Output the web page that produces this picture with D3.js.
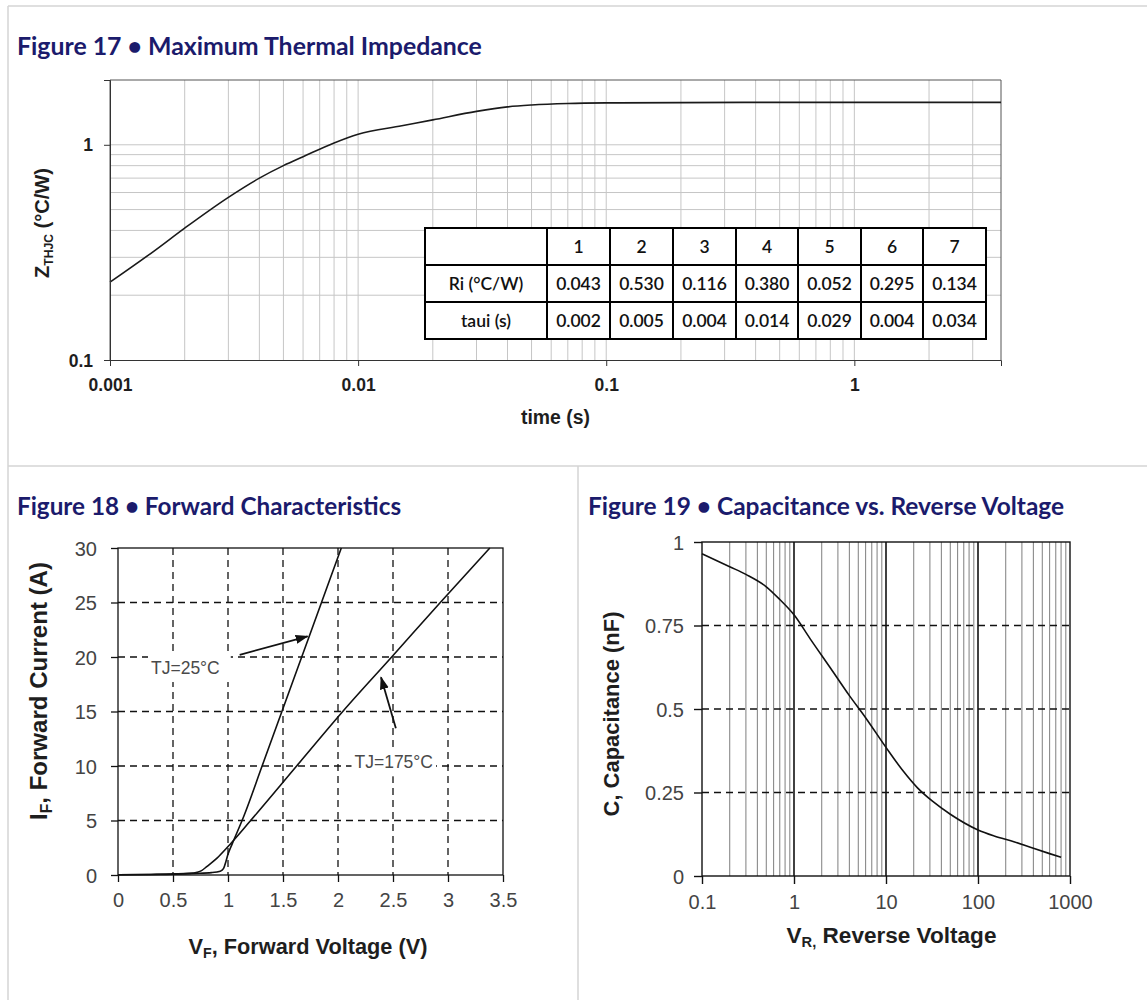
<!DOCTYPE html>
<html><head><meta charset="utf-8">
<script src="https://cdn.jsdelivr.net/npm/d3@7"></script>
<style>body{margin:0;background:#fff}svg{display:block}</style>
</head><body>
<svg id="c" width="1147" height="1000"></svg>
<script>
// ---------------- DATA ----------------
// Figure 17: thermal impedance
const zthTime  = [0.001, 0.0015, 0.002, 0.003, 0.004, 0.005, 0.006, 0.008, 0.01, 0.015, 0.02, 0.03, 0.04, 0.05, 0.07, 0.1, 0.2, 0.5, 1, 2, 3.9];
const zthValue = [0.23, 0.32, 0.41, 0.57, 0.70, 0.80, 0.88, 1.02, 1.12, 1.225, 1.305, 1.43, 1.50, 1.53, 1.555, 1.565, 1.57, 1.575, 1.575, 1.575, 1.575];
const zthXTicks = [0.001, 0.01, 0.1, 1];
const zthXLabels = ["0.001", "0.01", "0.1", "1"];
const zthYTicks = [0.1, 1];
const zthYLabels = ["0.1", "1"];
const tableCols = ["1", "2", "3", "4", "5", "6", "7"];
const tableRowNames = ["Ri (°C/W)", "taui (s)"];
const riValues  = ["0.043", "0.530", "0.116", "0.380", "0.052", "0.295", "0.134"];
const tauValues = ["0.002", "0.005", "0.004", "0.014", "0.029", "0.004", "0.034"];

// Figure 18: forward characteristics
const vf25  = [0, 0.3, 0.5, 0.7, 0.85, 0.93, 0.96, 0.98, 1.0, 1.04, 1.14, 1.31, 1.49, 1.67, 1.85, 2.03];
const if25  = [0.02, 0.05, 0.08, 0.15, 0.22, 0.35, 0.6, 1.2, 1.9, 2.9, 5.3, 10, 15, 20, 25, 30];
const vf175 = [0, 0.3, 0.5, 0.65, 0.72, 0.76, 0.81, 0.9, 0.99, 1.206, 1.624, 2.043, 2.488, 2.93, 3.38];
const if175 = [0.02, 0.05, 0.1, 0.15, 0.25, 0.4, 0.8, 1.55, 2.5, 5, 10, 15, 20, 25, 30];
const vfTicks = [0, 0.5, 1, 1.5, 2, 2.5, 3, 3.5];
const ifTicks = [0, 5, 10, 15, 20, 25, 30];
const label25  = {text: "TJ=25°C",  at: [0.30, 19.0], arrowFrom: [1.106, 20.2], arrowTo: [1.724, 21.9]};
const label175 = {text: "TJ=175°C", at: [2.15, 10.35], arrowFrom: [2.526, 13.46], arrowTo: [2.391, 18.15]};

// Figure 19: capacitance vs reverse voltage
const vrValues  = [0.1, 0.2, 0.3, 0.5, 0.7, 1, 1.5, 2.5, 4, 6, 10, 15, 22, 32, 50, 100, 150, 250, 400, 600, 800];
const capValues = [0.965, 0.926, 0.903, 0.866, 0.828, 0.782, 0.71, 0.622, 0.54, 0.474, 0.385, 0.318, 0.264, 0.224, 0.185, 0.138, 0.12, 0.102, 0.083, 0.067, 0.056];
const vrTicks = [0.1, 1, 10, 100, 1000];
const vrLabels = ["0.1", "1", "10", "100", "1000"];
const capTicks = [0, 0.25, 0.5, 0.75, 1];
const capLabels = ["0", "0.25", "0.5", "0.75", "1"];

// ---------------- DRAWING ----------------
const svg = d3.select("#c");
const TITLE_FONT = "Lato, 'Open Sans', sans-serif";
const AX_FONT = "'Liberation Sans', Arial, sans-serif";
const NAVY = "#1b1b6c";

function fit(sel, target) {
  const fs = parseFloat(sel.attr("font-size"));
  const w = sel.node().getComputedTextLength();
  sel.attr("font-size", (fs * target / w).toFixed(2));
  return sel;
}

// panel separators
const sep = svg.append("g").attr("stroke", "#d4d4d4").attr("stroke-width", 1.5);
sep.append("line").attr("x1", 8).attr("x2", 1147).attr("y1", 6).attr("y2", 6);
sep.append("line").attr("x1", 8).attr("x2", 8).attr("y1", 6).attr("y2", 1000);
sep.append("line").attr("x1", 8).attr("x2", 1147).attr("y1", 466).attr("y2", 466);
sep.append("line").attr("x1", 578).attr("x2", 578).attr("y1", 466).attr("y2", 1000);

// titles
function title(x, y, txt, w) {
  const t = svg.append("text").attr("x", x).attr("y", y).attr("font-family", TITLE_FONT)
    .attr("font-weight", 700).attr("font-size", 22).attr("fill", NAVY).text(txt);
  fit(t, w);
}
title(17, 55, "Figure 17 • Maximum Thermal Impedance", 465);
title(17, 515, "Figure 18 • Forward Characteristics", 384);
title(588, 515, "Figure 19 • Capacitance vs. Reverse Voltage", 476);

// ===== Figure 17 =====
{
  const L = 110, R = 1001, T = 80, B = 360;
  const x = d3.scaleLog().domain([0.001, 3.9]).range([L, R]);
  const y = d3.scaleLog().domain([0.1, 2]).range([B, T]);
  const g = svg.append("g");
  g.append("g").selectAll("line").data(x.ticks().filter(d => d > 0.0011)).join("line")
    .attr("x1", d => x(d)).attr("x2", d => x(d)).attr("y1", T).attr("y2", B)
    .attr("stroke", "#c6c6c6").attr("stroke-width", 1);
  g.append("g").selectAll("line").data(y.ticks().filter(d => d > 0.11 && d < 1.9)).join("line")
    .attr("x1", L).attr("x2", R).attr("y1", d => y(d)).attr("y2", d => y(d))
    .attr("stroke", "#c6c6c6").attr("stroke-width", 1);
  // frame
  g.append("path").attr("d", `M${L},${B}V${T}H${R}V${B}`).attr("fill", "none").attr("stroke", "#555").attr("stroke-width", 1);
  // curve
  const pts = zthTime.map((t, i) => [t, zthValue[i]]);
  g.append("path").datum(pts)
    .attr("d", d3.line().x(d => x(d[0])).y(d => y(d[1])).curve(d3.curveMonotoneX))
    .attr("fill", "none").attr("stroke", "#1a1a1a").attr("stroke-width", 1.6);
  // axes
  const ax = g.append("g").attr("transform", `translate(0,${B})`)
    .call(d3.axisBottom(x).tickValues(zthXTicks).tickFormat((d, i) => zthXLabels[i]).tickSize(6));
  const ay = g.append("g").attr("transform", `translate(${L},0)`)
    .call(d3.axisLeft(y).tickValues(zthYTicks).tickFormat((d, i) => zthYLabels[i]).tickSize(6));
  [ax, ay].forEach(a => {
    a.select(".domain").attr("stroke", "#333");
    a.selectAll(".tick line").attr("stroke", "#333");
    a.selectAll("text").attr("font-family", AX_FONT).attr("font-weight", 700).attr("font-size", 17.5).attr("fill", "#1e1e1e");
  });
  ax.selectAll("text").attr("y", 25).attr("dy", "0.35em");
  ay.selectAll("text").attr("x", -17).attr("dy", "0.35em");
  // axis titles
  const xt = g.append("text").attr("x", (L + R) / 2).attr("y", 417).attr("dy", "0.35em").attr("text-anchor", "middle")
    .attr("font-family", AX_FONT).attr("font-weight", 700).attr("font-size", 18).attr("fill", "#1e1e1e").text("time (s)");
  fit(xt, 69);
  const yt = g.append("text").attr("transform", "translate(42,223) rotate(-90)").attr("dy", "0.35em")
    .attr("text-anchor", "middle").attr("font-family", AX_FONT).attr("font-weight", 700).attr("font-size", 19).attr("fill", "#1e1e1e");
  yt.append("tspan").text("Z");
  yt.append("tspan").attr("font-size", "0.6em").attr("dy", "0.35em").text("THJC");
  yt.append("tspan").attr("dy", "-0.21em").text(" (°C/W)");
  fit(yt, 110);

  // table
  const colEdges = [425, 547, 610, 673, 736, 798, 861, 923, 986];
  const rowEdges = [228, 265, 302, 339];
  const tg = g.append("g");
  tg.append("rect").attr("x", colEdges[0]).attr("y", rowEdges[0])
    .attr("width", colEdges[8] - colEdges[0]).attr("height", rowEdges[3] - rowEdges[0]).attr("fill", "#fff");
  const cells = [];
  tableCols.forEach((c, i) => cells.push({r: 0, c: i + 1, t: c}));
  tableRowNames.forEach((n, i) => cells.push({r: i + 1, c: 0, t: n}));
  riValues.forEach((v, i) => cells.push({r: 1, c: i + 1, t: v}));
  tauValues.forEach((v, i) => cells.push({r: 2, c: i + 1, t: v}));
  tg.selectAll("text").data(cells).join("text")
    .attr("x", d => (colEdges[d.c] + colEdges[d.c + 1]) / 2)
    .attr("y", d => (rowEdges[d.r] + rowEdges[d.r + 1]) / 2).attr("dy", "0.36em")
    .attr("text-anchor", "middle").attr("font-family", "Lato, 'Open Sans', sans-serif")
    .attr("font-weight", 600).attr("font-size", 17.5).attr("fill", "#111").text(d => d.t);
  tg.append("g").selectAll("line").data(colEdges).join("line")
    .attr("x1", d => d).attr("x2", d => d).attr("y1", rowEdges[0]).attr("y2", rowEdges[3])
    .attr("stroke", "#000").attr("stroke-width", 2);
  tg.append("g").selectAll("line").data(rowEdges).join("line")
    .attr("x1", colEdges[0] - 1).attr("x2", colEdges[8] + 1).attr("y1", d => d).attr("y2", d => d)
    .attr("stroke", "#000").attr("stroke-width", 2);
}

// arrow marker
svg.append("defs").append("marker").attr("id", "arr").attr("markerUnits", "userSpaceOnUse")
  .attr("markerWidth", 14).attr("markerHeight", 10).attr("refX", 12).attr("refY", 5).attr("orient", "auto")
  .append("path").attr("d", "M0,0.5L13,5L0,9.5Z").attr("fill", "#111");

// ===== Figure 18 =====
{
  const L = 118, R = 503, T = 548, B = 875;
  const x = d3.scaleLinear().domain([0, 3.5]).range([L, R]);
  const y = d3.scaleLinear().domain([0, 30]).range([B, T]);
  const g = svg.append("g");
  g.append("g").selectAll("line").data(vfTicks.slice(1, -1)).join("line")
    .attr("x1", d => x(d)).attr("x2", d => x(d)).attr("y1", T).attr("y2", B)
    .attr("stroke", "#111").attr("stroke-width", 1.3).attr("stroke-dasharray", "7,5");
  g.append("g").selectAll("line").data(ifTicks.slice(1, -1)).join("line")
    .attr("x1", L).attr("x2", R).attr("y1", d => y(d)).attr("y2", d => y(d))
    .attr("stroke", "#111").attr("stroke-width", 1.3).attr("stroke-dasharray", "7,5");
  // labels with white background
  [label25, label175].forEach(lb => {
    const t = g.append("text").attr("x", x(lb.at[0])).attr("y", y(lb.at[1])).attr("dy", "0.35em")
      .attr("font-family", AX_FONT).attr("font-size", 17.5).attr("fill", "#4a4a4a").text(lb.text);
    const bb = t.node().getBBox();
    g.insert("rect", () => t.node()).attr("x", bb.x - 3).attr("y", bb.y - 5)
      .attr("width", bb.width + (lb === label25 ? 14 : 6)).attr("height", bb.height + 9).attr("fill", "#fff");
  });
  // frame
  g.append("rect").attr("x", L).attr("y", T).attr("width", R - L).attr("height", B - T)
    .attr("fill", "none").attr("stroke", "#111").attr("stroke-width", 1.3);
  const line = d3.line().x(d => x(d[0])).y(d => y(d[1])).curve(d3.curveMonotoneX);
  g.append("path").datum(vf25.map((v, i) => [v, if25[i]])).attr("d", line)
    .attr("fill", "none").attr("stroke", "#111").attr("stroke-width", 1.6);
  g.append("path").datum(vf175.map((v, i) => [v, if175[i]])).attr("d", line)
    .attr("fill", "none").attr("stroke", "#111").attr("stroke-width", 1.6);
  [label25, label175].forEach(lb => {
    g.append("line").attr("x1", x(lb.arrowFrom[0])).attr("y1", y(lb.arrowFrom[1]))
      .attr("x2", x(lb.arrowTo[0])).attr("y2", y(lb.arrowTo[1]))
      .attr("stroke", "#111").attr("stroke-width", 1.8).attr("marker-end", "url(#arr)");
  });
  const ax = g.append("g").attr("transform", `translate(0,${B})`)
    .call(d3.axisBottom(x).tickValues(vfTicks).tickFormat(d3.format("")).tickSize(7));
  const ay = g.append("g").attr("transform", `translate(${L},0)`)
    .call(d3.axisLeft(y).tickValues(ifTicks).tickFormat(d3.format("")).tickSize(7));
  [ax, ay].forEach(a => {
    a.select(".domain").remove();
    a.selectAll(".tick line").attr("stroke", "#111").attr("stroke-width", 1.3);
    a.selectAll("text").attr("font-family", AX_FONT).attr("font-size", 20).attr("fill", "#444");
  });
  ax.selectAll("text").attr("y", 25).attr("dy", "0.35em");
  ay.selectAll("text").attr("x", -21).attr("dy", "0.35em");
  const xt = g.append("text").attr("x", 308).attr("y", 946).attr("dy", "0.35em").attr("text-anchor", "middle")
    .attr("font-family", AX_FONT).attr("font-weight", 700).attr("font-size", 20).attr("fill", "#1e1e1e");
  xt.append("tspan").text("V");
  xt.append("tspan").attr("font-size", "0.65em").attr("dy", "0.3em").text("F");
  xt.append("tspan").attr("dy", "-0.2em").text(", Forward Voltage (V)");
  fit(xt, 239);
  const yt = g.append("text").attr("transform", "translate(39,691) rotate(-90)").attr("dy", "0.35em")
    .attr("text-anchor", "middle").attr("font-family", AX_FONT).attr("font-weight", 700).attr("font-size", 20).attr("fill", "#1e1e1e");
  yt.append("tspan").text("I");
  yt.append("tspan").attr("font-size", "0.65em").attr("dy", "0.3em").text("F");
  yt.append("tspan").attr("dy", "-0.2em").text(", Forward Current (A)");
  fit(yt, 258);
}

// ===== Figure 19 =====
{
  const L = 702, R = 1070, T = 542, B = 876;
  const x = d3.scaleLog().domain([0.1, 1000]).range([L, R]);
  const y = d3.scaleLinear().domain([0, 1]).range([B, T]);
  const g = svg.append("g");
  const minor = x.ticks().filter(d => !vrTicks.some(v => Math.abs(v - d) / v < 1e-6));
  g.append("g").selectAll("line").data(minor).join("line")
    .attr("x1", d => x(d)).attr("x2", d => x(d)).attr("y1", T).attr("y2", B)
    .attr("stroke", "#8a8a8a").attr("stroke-width", 1.1);
  g.append("g").selectAll("line").data(vrTicks.slice(1, -1)).join("line")
    .attr("x1", d => x(d)).attr("x2", d => x(d)).attr("y1", T).attr("y2", B)
    .attr("stroke", "#111").attr("stroke-width", 1.6);
  g.append("g").selectAll("line").data(capTicks.slice(1, -1)).join("line")
    .attr("x1", L).attr("x2", R).attr("y1", d => y(d)).attr("y2", d => y(d))
    .attr("stroke", "#111").attr("stroke-width", 1.3).attr("stroke-dasharray", "7,5");
  g.append("rect").attr("x", L).attr("y", T).attr("width", R - L).attr("height", B - T)
    .attr("fill", "none").attr("stroke", "#111").attr("stroke-width", 1.4);
  g.append("path").datum(vrValues.map((v, i) => [v, capValues[i]]))
    .attr("d", d3.line().x(d => x(d[0])).y(d => y(d[1])).curve(d3.curveMonotoneX))
    .attr("fill", "none").attr("stroke", "#111").attr("stroke-width", 1.6);
  const ax = g.append("g").attr("transform", `translate(0,${B})`)
    .call(d3.axisBottom(x).tickValues(vrTicks).tickFormat((d, i) => vrLabels[i]).tickSize(8));
  const ay = g.append("g").attr("transform", `translate(${L},0)`)
    .call(d3.axisLeft(y).tickValues(capTicks).tickFormat((d, i) => capLabels[i]).tickSize(8));
  [ax, ay].forEach(a => {
    a.select(".domain").remove();
    a.selectAll(".tick line").attr("stroke", "#111").attr("stroke-width", 1.4);
    a.selectAll("text").attr("font-family", AX_FONT).attr("font-size", 20).attr("fill", "#444");
  });
  ax.selectAll("text").attr("y", 26).attr("dy", "0.35em");
  ay.selectAll("text").attr("x", -18).attr("dy", "0.35em");
  const xt = g.append("text").attr("x", 891.5).attr("y", 935).attr("dy", "0.35em").attr("text-anchor", "middle")
    .attr("font-family", AX_FONT).attr("font-weight", 700).attr("font-size", 20).attr("fill", "#1e1e1e");
  xt.append("tspan").text("V");
  xt.append("tspan").attr("font-size", "0.65em").attr("dy", "0.3em").text("R,");
  xt.append("tspan").attr("dy", "-0.2em").text(" Reverse Voltage");
  fit(xt, 210);
  const yt = g.append("text").attr("transform", "translate(611,714) rotate(-90)").attr("dy", "0.35em")
    .attr("text-anchor", "middle").attr("font-family", AX_FONT).attr("font-weight", 700).attr("font-size", 20)
    .attr("fill", "#1e1e1e").text("C, Capacitance (nF)");
  fit(yt, 205);
}
</script>
</body></html>
